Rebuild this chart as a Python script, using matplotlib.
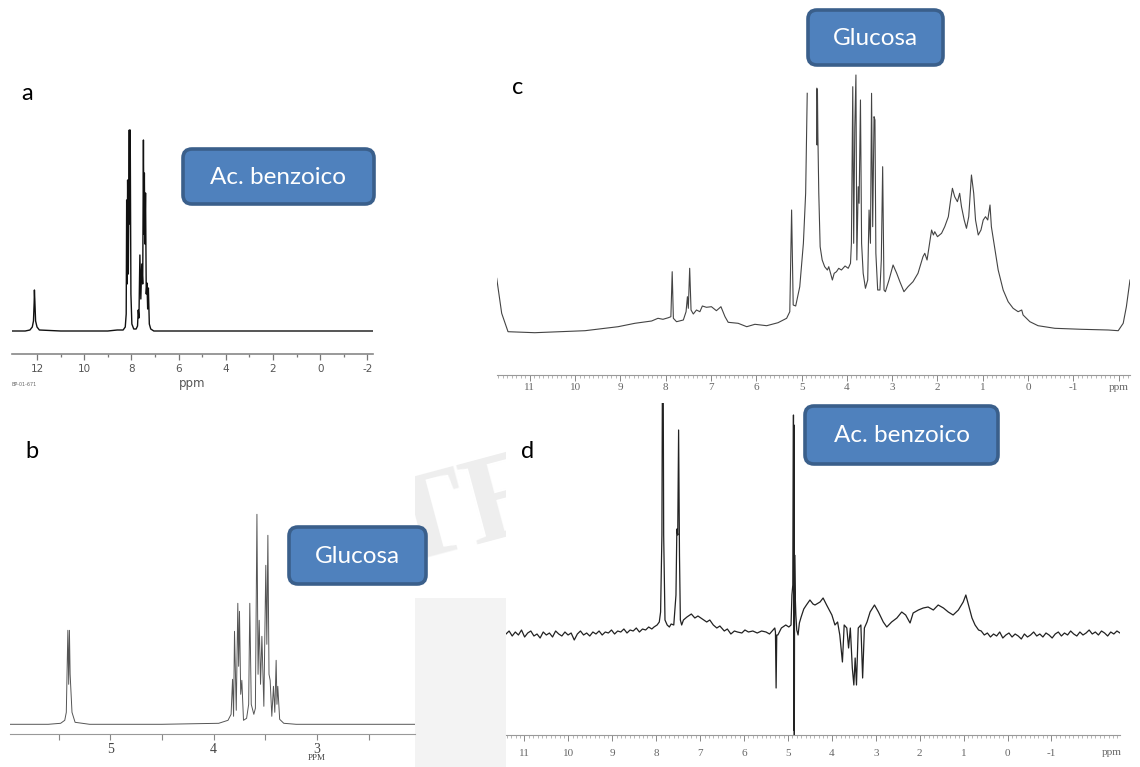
import numpy as np
import matplotlib
matplotlib.use("Agg")
import matplotlib.pyplot as plt
from matplotlib.patches import FancyBboxPatch, Rectangle
from matplotlib.ticker import MultipleLocator

plt.rcParams['font.family'] = ['Lato', 'DejaVu Sans']
plt.rcParams['axes.unicode_minus'] = False

# ---- a: benzoic acid (ppm, intensity) ----
a_ppm = [13.06, 12.5, 12.30, 12.20, 12.15, 12.12, 12.11, 12.09, 12.06, 12.00, 11.90,
         11.0, 10.0, 9.0, 8.6, 8.35, 8.26, 8.22, 8.20, 8.18, 8.16, 8.13, 8.09, 8.07,
         8.05, 8.02, 7.98, 7.90, 7.80, 7.74, 7.71, 7.68, 7.64, 7.60, 7.56, 7.52, 7.49,
         7.47, 7.45, 7.43, 7.40, 7.37, 7.34, 7.31, 7.28, 7.24, 7.18, 7.05, 6.5, 5.0,
         3.0, 1.0, -1.0, -2.24]
a_int = [23, 23, 24, 27, 33, 52, 64, 52, 33, 27, 24,
         23, 23, 23, 24, 24, 27, 40, 154, 70, 174, 80, 224, 130,
         224, 60, 30, 25, 25, 28, 44, 36, 99, 55, 90, 70, 214,
         120, 181, 110, 161, 60, 71, 45, 66, 30, 25, 23, 23, 23,
         23, 23, 23, 23]
a_major = [12, 10, 8, 6, 4, 2, 0, -2]
a_minor = [11, 9, 7, 5, 3, 1, -1]

# ---- b: glucose ----
b_ppm = [5.97, 5.6, 5.48, 5.44, 5.425, 5.418, 5.41, 5.402, 5.395, 5.388,
         5.37, 5.34, 5.2, 4.5, 3.95, 3.86, 3.83, 3.816, 3.806, 3.797,
         3.78, 3.765, 3.757, 3.749, 3.737, 3.726, 3.71, 3.68, 3.66, 3.649,
         3.635, 3.61, 3.595, 3.58, 3.569, 3.558, 3.545, 3.532, 3.513, 3.494,
         3.484, 3.474, 3.463, 3.452, 3.436, 3.42, 3.407, 3.394, 3.386, 3.378,
         3.36, 3.32, 3.2, 2.5, 2.05]
b_int = [10, 10, 11, 14, 22, 60, 104, 50, 104, 60,
         22, 12, 10, 10, 11, 14, 20, 55, 18, 103,
         24, 131, 68, 123, 40, 54, 14, 16, 30, 131,
         30, 20, 26, 220, 60, 114, 50, 98, 28, 169,
         90, 199, 60, 54, 18, 48, 22, 74, 30, 48,
         15, 11, 10, 10, 10]

# ---- c: glucose in mixture ----
c_ppm = [11.73, 11.62, 11.48, 10.89, 9.78, 9.05, 8.68, 8.31, 8.17, 8.06, 7.94, 7.885,
         7.856, 7.83, 7.76, 7.61, 7.55, 7.52, 7.50, 7.47, 7.44, 7.39, 7.32, 7.245,
         7.19, 7.10, 6.99, 6.88, 6.78, 6.69, 6.62, 6.40, 6.21, 6.03, 5.77, 5.52,
         5.33, 5.26, 5.22, 5.185, 5.13, 5.04, 4.96, 4.91, 4.875, np.nan,
         4.665, 4.658, 4.650, 4.64, 4.62, 4.59, 4.545, 4.49, 4.43, 4.40, 4.35, 4.32,
         4.28, 4.23, 4.18, 4.12, 4.04, 3.97, 3.92, 3.90, 3.87, 3.85, 3.825, 3.80,
         3.78, 3.75, 3.73, 3.70, 3.675, 3.64, 3.59, 3.54, 3.51, 3.48, 3.455, 3.43,
         3.40, 3.38, 3.36, 3.32, 3.27, 3.24, 3.21, 3.18, 3.15, 3.07, 2.98, 2.90,
         2.83, 2.74, 2.65, 2.54, 2.43, 2.32, 2.28, 2.23, 2.17, 2.13, 2.09, 2.06,
         2.00, 1.91, 1.84, 1.76, 1.71, 1.67, 1.62, 1.56, 1.51, 1.47, 1.41, 1.36,
         1.31, 1.25, 1.20, 1.16, 1.10, 1.04, 0.99, 0.94, 0.89, 0.84, 0.81, 0.73,
         0.66, 0.55, 0.44, 0.33, 0.22, 0.14, 0.11, -0.04, -0.22, -0.59, -1.18,
         -1.77, -1.99, -2.10, -2.17, -2.25]
c_int = [96.7, 61.7, 43.3, 42.3, 44.3, 48.3, 51.7, 54, 56.7, 55.7, 57.3, 58.3,
         103.3, 56.7, 53.3, 55, 63.3, 78.3, 66.7, 106.7, 65, 61, 65, 63.3,
         69, 67.7, 68.3, 64.3, 68.3, 58.3, 52.7, 51.7, 48.3, 50.7, 49.3, 52.3,
         56.7, 63.3, 165, 70, 69, 88.3, 131.7, 181.7, 281.7, np.nan,
         286.7, 230, 286, 240, 181.7, 128.3, 115, 108.3, 105, 108.3, 100, 95,
         101.7, 103.3, 106.7, 105, 109, 106.7, 111.7, 131.7, 288.3, 131.7, 248, 300,
         115, 188.3, 171.7, 275, 131.7, 101.7, 86.7, 95, 165, 131.7, 281.7, 148.3,
         258.3, 255, 121.7, 85, 85, 115, 208.3, 85, 83.3, 95, 110, 101.7,
         93.3, 83.3, 88.3, 93.3, 101.7, 118.3, 121.7, 115, 133.3, 145, 140, 143.3,
         138.3, 141.7, 148.3, 158.3, 175, 186.7, 178.3, 173.3, 181.7, 168.3, 155, 146.7,
         158.3, 200, 181.7, 155, 140, 145, 155, 158.3, 155, 170, 148.3, 125,
         105, 85, 73.3, 66.7, 63.3, 65, 60, 53.3, 49.3, 46.7, 45.7,
         45, 44.3, 51.7, 68.3, 95]
c_major = list(range(11, -3, -1))
c_labels = [str(v) for v in range(11, -2, -1)] + ['ppm']

# ---- d: difference spectrum (benzoic acid) ----
d_left_noise = [101, 104, 99, 103, 100, 105, 98, 102, 104, 99, 101, 97, 103, 100, 102, 98,
                104, 101, 99, 103, 100, 102, 95, 101, 104, 100, 102, 99, 103, 101, 104, 100,
                103, 102, 105, 101, 104, 103, 106, 102, 105, 104, 107, 103, 106, 105, 108, 106]
d_mid_ppm = [8.05, 7.98, 7.93, 7.90, 7.87, 7.86, 7.84, 7.83, 7.80, 7.75, 7.70, 7.66, 7.60,
             7.55, 7.53, 7.51, 7.49, 7.47, 7.45, 7.42, 7.38, 7.30, 7.20, 7.12, 7.05, 6.95,
             6.85, 6.78, 6.70, 6.62, 6.55, 6.45, 6.38, 6.30, 6.22, 6.15, 6.05, 5.98, 5.90,
             5.80, 5.70, 5.60, 5.50, 5.42, 5.36, 5.30, 5.285, 5.27, 5.255, 5.23, 5.15, 5.05,
             4.98, 4.93, 4.91, 4.89, 4.875, 4.868, 4.862, 4.855, 4.848, 4.835, 4.82, 4.80,
             4.77, 4.74, 4.70, 4.64, 4.58, 4.50, 4.43, 4.385, 4.27, 4.20, 4.12, 4.00, 3.93,
             3.87, 3.82, 3.76, 3.72, 3.66, 3.62, 3.58, 3.535, 3.50, 3.47, 3.44, 3.40, 3.34,
             3.30, 3.26, 3.20, 3.13, 3.03, 2.94, 2.83, 2.75, 2.64, 2.52, 2.41, 2.32, 2.22,
             2.15, 2.03, 1.92, 1.81, 1.69, 1.58, 1.46, 1.35, 1.24, 1.12, 1.01, 0.95, 0.89,
             0.81, 0.74, 0.66]
d_mid_int = [108, 110, 113, 123, 200, 345, 345, 200, 115, 110, 108, 111, 110,
             140, 206, 200, 305, 180, 115, 110, 115, 118, 121, 117, 119, 116,
             113, 115, 110, 107, 109, 104, 106, 101, 104, 103, 102, 105, 103,
             104, 102, 104, 103, 101, 104, 107, 103, 47, 100, 100, 107, 110,
             108, 110, 140, 150, 320, 5, 310, 0, 180, 140, 120, 105,
             100, 112, 118, 126, 130, 135, 131, 130, 133, 137, 130, 120, 110,
             113, 100, 73, 110, 107, 87, 107, 67, 50, 77, 50, 107, 110,
             57, 107, 113, 123, 130, 123, 113, 108, 113, 117, 123, 120, 112,
             122, 125, 127, 128, 125, 130, 127, 123, 120, 125, 133, 140, 130,
             117, 110, 105]
d_right_noise = [104, 100, 102, 98, 101, 99, 103, 97, 100, 102, 98, 101, 99, 96, 101, 98,
                 100, 103, 99, 101, 98, 102, 100, 97, 101, 103, 99, 102, 100, 104, 101, 99,
                 103, 100, 102, 105, 101, 103, 100, 104, 102, 99, 103, 101, 104, 102]
d_major = list(range(11, -2, -1))

W, H = 1140, 767
fig = plt.figure(figsize=(W / 100, H / 100), dpi=100)


def px_axes(x0, y0, x1, y1, z=0):
    return fig.add_axes([x0 / W, 1 - y1 / H, (x1 - x0) / W, (y1 - y0) / H], zorder=z)


def ruler(ax, color):
    for s in ['top', 'left', 'right']:
        ax.spines[s].set_visible(False)
    ax.spines['bottom'].set_color(color)
    ax.set_yticks([])
    ax.patch.set_facecolor('white')


# background watermark (faint, between panels b and d)
bg = px_axes(0, 0, W, H, z=-1)
bg.set_xlim(0, W)
bg.set_ylim(H, 0)
bg.axis('off')
bg.add_patch(Rectangle((415, 598), 91, 169, color='#f3f3f3', lw=0))
bg.text(468, 515, 'TE', fontsize=90, color='#eeeeee', family='Liberation Serif',
        fontweight='bold', rotation=15, ha='center', va='center')

# a
ax = px_axes(12, 110, 373, 354)
ruler(ax, '#888888')
ax.spines['bottom'].set_linewidth(1.2)
ax.plot(a_ppm, a_int, color='#111111', lw=1.0)
ax.set_xlim(13.06, -2.24)
ax.set_ylim(0, 244)
ax.set_xticks(a_major)
ax.set_xticks(a_minor, minor=True)
ax.tick_params(axis='x', which='major', length=4, width=0.9, color='#777777',
               labelsize=7.5, labelcolor='#555555', pad=3)
ax.tick_params(axis='x', which='minor', length=2, width=0.9, color='#777777')
for lbl in ax.get_xticklabels():
    lbl.set_family('DejaVu Sans')
ax.set_xlabel('ppm', fontsize=8.5, color='#555555', labelpad=2, family='DejaVu Sans')
fig.text(12 / W, 1 - 385 / H, 'BP-01-671', fontsize=3.5, color='#666666',
         family='DejaVu Sans', va='center')

# b
ax = px_axes(10, 470, 415, 734.3)
ruler(ax, '#999999')
ax.plot(b_ppm, b_int, color='#555555', lw=0.7)
ax.set_xlim(5.97, 2.05)
ax.set_ylim(0, 264.3)
ax.set_xticks([5, 4, 3])
ax.set_xticks([5.5, 4.5, 3.5, 2.5], minor=True)
ax.tick_params(axis='x', which='both', length=4, width=0.8, color='#888888',
               labelsize=10, labelcolor='#444444', pad=2)
for lbl in ax.get_xticklabels():
    lbl.set_family('Liberation Serif')
ax.text(3, -0.09, 'PPM', transform=ax.get_xaxis_transform(), fontsize=6.5,
        color='#444444', family='Liberation Serif', ha='center', va='center')

# c
ax = px_axes(496.7, 60, 1130, 375)
ruler(ax, '#999999')
ax.plot(c_ppm, c_int, color='#444444', lw=0.8)
ax.set_xlim(11.73, -2.25)
ax.set_ylim(0, 315)
ax.set_xticks(c_major)
ax.set_xticklabels(c_labels)
ax.xaxis.set_minor_locator(MultipleLocator(0.1))
ax.tick_params(axis='x', which='major', length=4, width=0.7, color='#888888',
               labelsize=8, labelcolor='#666666', pad=2)
ax.tick_params(axis='x', which='minor', length=2, width=0.5, color='#999999')
for lbl in ax.get_xticklabels():
    lbl.set_family('Liberation Serif')

# d
d_ppm = list(np.linspace(11.42, 8.10, len(d_left_noise))) + d_mid_ppm + \
    list(np.linspace(0.60, -2.56, len(d_right_noise)))
d_int = d_left_noise + d_mid_int + d_right_noise
ax = px_axes(506, 403, 1120, 735)
ruler(ax, '#999999')
ax.plot(d_ppm, d_int, color='#222222', lw=0.9)
ax.set_xlim(11.42, -2.56)
ax.set_ylim(0, 332)
ax.set_xticks(d_major)
ax.xaxis.set_minor_locator(MultipleLocator(0.1))
ax.tick_params(axis='x', which='major', length=4, width=0.7, color='#888888',
               labelsize=8, labelcolor='#666666', pad=6)
ax.tick_params(axis='x', which='minor', length=2, width=0.5, color='#999999')
for lbl in ax.get_xticklabels():
    lbl.set_family('Liberation Serif')
ax.text(-2.37, -0.054, 'ppm', transform=ax.get_xaxis_transform(), fontsize=8,
        color='#666666', family='Liberation Serif', ha='center', va='center')

# overlay: callout boxes and panel letters
ov = px_axes(0, 0, W, H, z=10)
ov.set_xlim(0, W)
ov.set_ylim(H, 0)
ov.axis('off')
boxes = [(181, 147, 376, 206, 'Ac. benzoico'), (287, 525, 428, 586, 'Glucosa'),
         (806, 8, 945, 67, 'Glucosa'), (803, 404, 1000, 466, 'Ac. benzoico')]
for x0, y0, x1, y1, txt in boxes:
    ov.add_patch(FancyBboxPatch((x0 + 2, y0 + 2), x1 - x0 - 4, y1 - y0 - 4,
                                boxstyle='round,pad=0,rounding_size=9',
                                fc='#4f81bd', ec='#3a5f8b', lw=2.6))
    ov.text((x0 + x1) / 2, (y0 + y1) / 2 + 1, txt, fontsize=17.5, color='white',
            ha='center', va='center')
for letter, x, y in [('a', 27, 93), ('b', 32, 452), ('c', 518, 88), ('d', 528, 452)]:
    ov.text(x, y, letter, fontsize=17, color='black', ha='center', va='center')

fig.savefig('out.png', dpi=100)
